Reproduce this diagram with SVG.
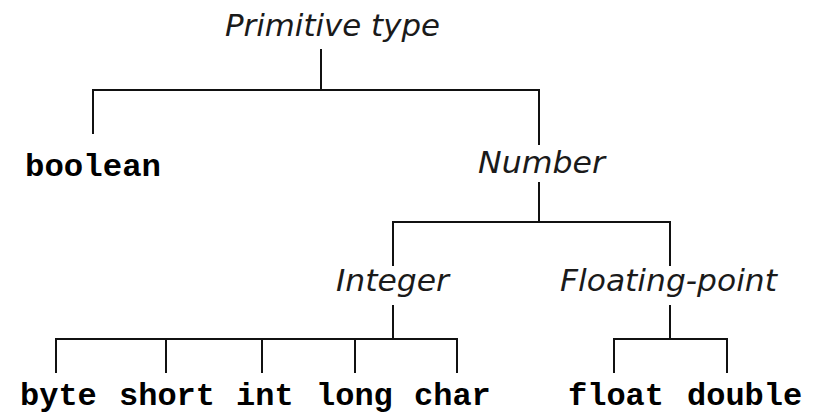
<svg xmlns="http://www.w3.org/2000/svg" width="818" height="416" viewBox="0 0 818 416">
<style>
.cat{font-family:"DejaVu Sans","Liberation Sans",sans-serif;font-style:italic;font-size:30px;fill:#1a1a1a}
.kw{font-family:"Liberation Mono","DejaVu Sans Mono",monospace;font-weight:bold;font-size:32px;fill:#000}
.ln{stroke:#111;stroke-width:2;fill:none;stroke-linecap:square}
</style>
<rect width="818" height="416" fill="#fff"/>
<g id="connectors">
<path class="ln" d="M321,50 V90 M93,90 H539 M93,90 V133 M539,90 V144"/>
<path class="ln" d="M539,183 V222 M393,222 H670 M393,222 V265 M670,222 V265"/>
<path class="ln" d="M393,306 V339 M56,339 H457 M56,339 V372 M166,339 V372 M262,339 V372 M355,339 V372 M457,339 V372"/>
<path class="ln" d="M670,306 V339 M614,339 H727 M614,339 V372 M727,339 V372"/>
</g>
<g id="primitive"><text class="cat" x="225" y="36" textLength="215" lengthAdjust="spacingAndGlyphs">Primitive type</text></g>
<g id="boolean"><text class="kw" x="25" y="176" textLength="136" lengthAdjust="spacingAndGlyphs">boolean</text></g>
<g id="number"><text class="cat" x="478" y="173" textLength="127" lengthAdjust="spacingAndGlyphs">Number</text></g>
<g id="integer"><text class="cat" x="336" y="291" textLength="113" lengthAdjust="spacingAndGlyphs">Integer</text></g>
<g id="floating"><text class="cat" x="560" y="291" textLength="217" lengthAdjust="spacingAndGlyphs">Floating-point</text></g>
<g id="byte"><text class="kw" x="20" y="405">byte</text></g>
<g id="short"><text class="kw" x="119" y="405">short</text></g>
<g id="int"><text class="kw" x="236" y="405">int</text></g>
<g id="long"><text class="kw" x="316" y="405">long</text></g>
<g id="char"><text class="kw" x="414" y="405">char</text></g>
<g id="float"><text class="kw" x="568" y="405">float</text></g>
<g id="double"><text class="kw" x="687" y="405">double</text></g>
</svg>
